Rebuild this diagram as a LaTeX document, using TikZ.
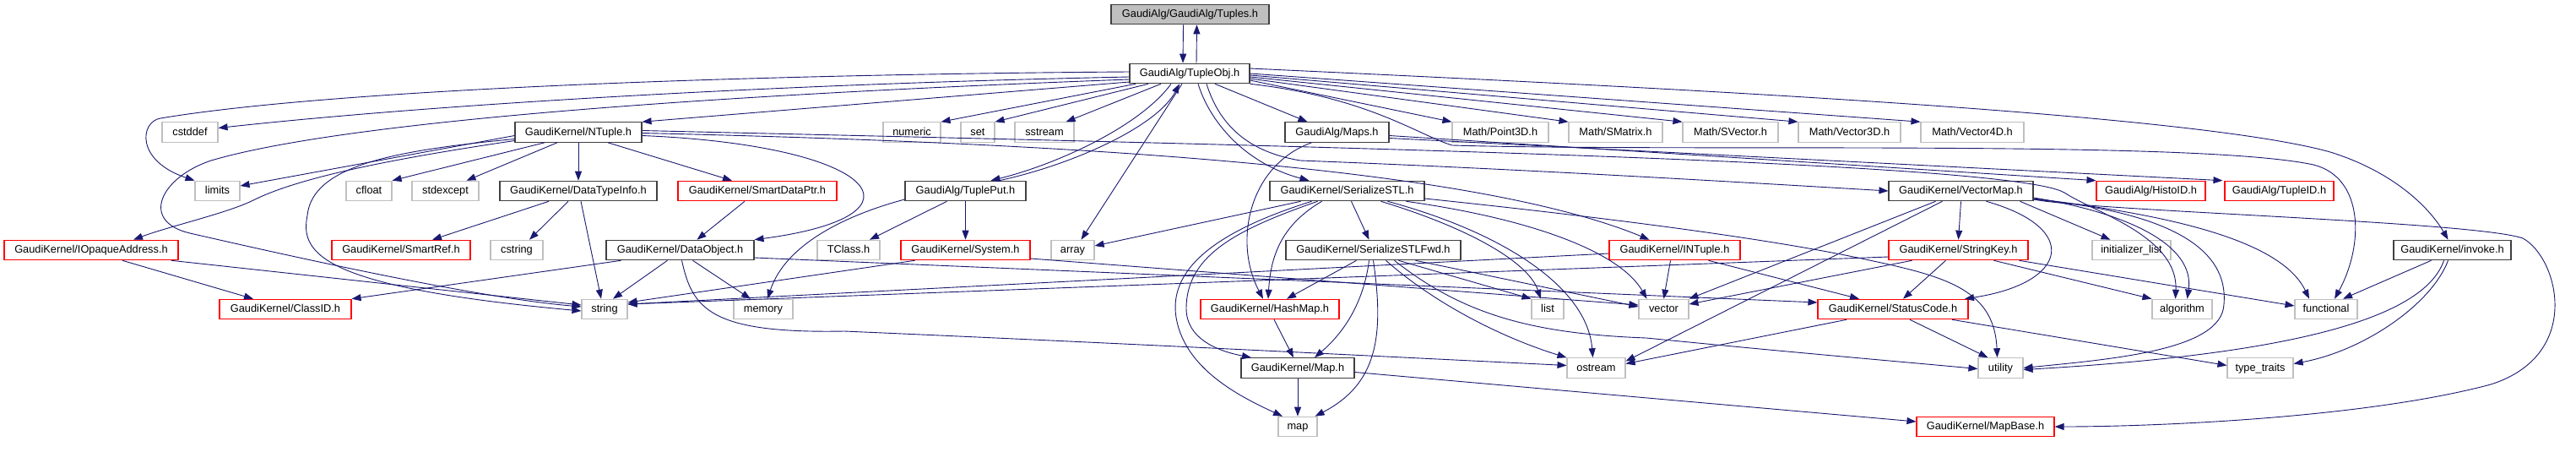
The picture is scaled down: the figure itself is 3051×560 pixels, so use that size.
\documentclass[tikz,border=0pt]{standalone}
\usepackage{fontspec}
\setmainfont{Liberation Sans}
\usepackage{tikz}
\usetikzlibrary{arrows.meta}
\definecolor{edgeblue}{RGB}{25,25,112}
\definecolor{sysgray}{RGB}{191,191,191}
\definecolor{docgray}{RGB}{64,64,64}

\begin{document}
\begin{tikzpicture}[x=1pt, y=-1pt,
    box/.style={draw, rectangle, inner sep=0pt, minimum height=23.5pt, line width=1.1pt,
                font=\fontsize{12.8}{14}\selectfont, text height=9.5pt, text depth=2.5pt},
    doc/.style={box, draw=docgray},
    sys/.style={box, draw=sysgray},
    trunc/.style={box, draw=red},
    dep/.style={draw=edgeblue, line width=0.9pt, -{Triangle[length=11pt,width=8pt]}}]
                \useasboundingbox (0,0) rectangle (3051,560);
                % Include graph of Tuples.h
                \node[doc, fill=sysgray, minimum width=187pt] (tuples) at (1409.5,17) {GaudiAlg/GaudiAlg/Tuples.h};
                \node[doc, minimum width=142pt] (tupleobj) at (1409,87) {GaudiAlg/TupleObj.h};

                \node[sys, minimum width=66pt] (cstddef) at (225,156.5) {cstddef};
                \node[doc, minimum width=150pt] (ntuple) at (685,156.5) {GaudiKernel/NTuple.h};
                \node[sys, minimum width=68pt] (numeric) at (1080,156.5) {numeric};
                \node[sys, minimum width=40pt] (set) at (1158,156.5) {set};
                \node[sys, minimum width=70pt] (sstream) at (1237,156.5) {sstream};
                \node[doc, minimum width=123pt] (maps) at (1583.5,156.5) {GaudiAlg/Maps.h};
                \node[sys, minimum width=114pt] (pointthreed) at (1777,156.5) {Math/Point3D.h};
                \node[sys, minimum width=111pt] (smatrix) at (1913.5,156.5) {Math/SMatrix.h};
                \node[sys, minimum width=113pt] (svector) at (2049.5,156.5) {Math/SVector.h};
                \node[sys, minimum width=121pt] (vecthreed) at (2190.5,156.5) {Math/Vector3D.h};
                \node[sys, minimum width=122pt] (vecfourd) at (2336,156.5) {Math/Vector4D.h};

                \node[sys, minimum width=53pt] (limits) at (257.5,226) {limits};
                \node[sys, minimum width=54pt] (cfloat) at (437,226) {cfloat};
                \node[sys, minimum width=79pt] (stdexcept) at (527.5,226) {stdexcept};
                \node[doc, minimum width=186pt] (datatypeinfo) at (685,226) {GaudiKernel/DataTypeInfo.h};
                \node[trunc, minimum width=188pt] (smartdataptr) at (897,226) {GaudiKernel/SmartDataPtr.h};
                \node[doc, minimum width=143pt] (tupleput) at (1143.5,226) {GaudiAlg/TuplePut.h};
                \node[doc, minimum width=183pt] (serializestl) at (1595.5,226) {GaudiKernel/SerializeSTL.h};
                \node[doc, minimum width=171pt] (vectormap) at (2322.5,226) {GaudiKernel/VectorMap.h};
                \node[trunc, minimum width=129pt] (histoid) at (2547.5,226) {GaudiAlg/HistoID.h};
                \node[trunc, minimum width=129pt] (tupleid) at (2699.5,226) {GaudiAlg/TupleID.h};

                \node[trunc, minimum width=206pt] (iopaque) at (108,296) {GaudiKernel/IOpaqueAddress.h};
                \node[trunc, minimum width=164pt] (smartref) at (475,296) {GaudiKernel/SmartRef.h};
                \node[sys, minimum width=62pt] (cstring) at (612,296) {cstring};
                \node[doc, minimum width=175pt] (dataobject) at (805.5,296) {GaudiKernel/DataObject.h};
                \node[sys, minimum width=74pt] (tclass) at (1005,296) {TClass.h};
                \node[trunc, minimum width=153pt] (system) at (1143.5,296) {GaudiKernel/System.h};
                \node[sys, minimum width=51pt] (array) at (1270.5,296) {array};
                \node[doc, minimum width=207pt] (stlfwd) at (1626.5,296) {GaudiKernel/SerializeSTLFwd.h};
                \node[trunc, minimum width=155pt] (intuple) at (1983.5,296) {GaudiKernel/INTuple.h};
                \node[trunc, minimum width=165pt] (stringkey) at (2319.5,296) {GaudiKernel/StringKey.h};
                \node[sys, minimum width=93pt] (initlist) at (2524.5,296) {initializer\_list};
                \node[doc, minimum width=139pt] (invoke) at (2904.5,296) {GaudiKernel/invoke.h};

                \node[trunc, minimum width=156pt] (classid) at (338,366) {GaudiKernel/ClassID.h};
                \node[sys, minimum width=54pt] (string) at (716,366) {string};
                \node[sys, minimum width=70pt] (memory) at (904,366) {memory};
                \node[trunc, minimum width=164pt] (hashmap) at (1504,366) {GaudiKernel/HashMap.h};
                \node[sys, minimum width=38pt] (list) at (1833,366) {list};
                \node[sys, minimum width=59pt] (vector) at (1970.5,366) {vector};
                \node[trunc, minimum width=178pt] (statuscode) at (2242,366) {GaudiKernel/StatusCode.h};
                \node[sys, minimum width=71pt] (algorithm) at (2584.5,366) {algorithm};
                \node[sys, minimum width=74pt] (functional) at (2755,366) {functional};

                \node[doc, minimum width=134pt] (maph) at (1537,435.5) {GaudiKernel/Map.h};
                \node[sys, minimum width=69pt] (ostream) at (1890.5,435.5) {ostream};
                \node[sys, minimum width=53pt] (utility) at (2369.5,435.5) {utility};
                \node[sys, minimum width=78pt] (typetraits) at (2677,435.5) {type\_traits};

                \node[sys, minimum width=46pt] (map) at (1537,505) {map};
                \node[trunc, minimum width=163pt] (mapbase) at (2351.5,505) {GaudiKernel/MapBase.h};

                % Tuples.h and TupleObj.h
                \draw[dep] ([xshift=-8pt]tuples.south) -- ([xshift=-8pt]tupleobj.north);
                \draw[dep] ([xshift=8pt]tupleobj.north) -- ([xshift=8pt]tuples.south);

                % TupleObj.h, left side
                \draw[dep] ([yshift=2pt]tupleobj.west) .. controls (900,88) and (400,105) .. (190,140) .. controls (166,144) and (160,190) .. (limits.north west);
                \draw[dep] ([yshift=-4pt]tupleobj.west) .. controls (900,100) and (500,125) .. ([yshift=5pt]cstddef.east);
                \draw[dep] ([yshift=-7pt]tupleobj.west) .. controls (900,110) and (420,140) .. (250,190) .. controls (190,210) and (165,262) .. (225,276) .. controls (330,300) and (560,352) .. ([yshift=3pt]string.west);
                \draw[dep] ([yshift=-10pt]tupleobj.west) -- (ntuple.north east);
                \draw[dep] ([xshift=-64pt]tupleobj.south) -- (numeric.north east);
                \draw[dep] ([xshift=-49pt]tupleobj.south) -- (set.north east);
                \draw[dep] ([xshift=-34pt]tupleobj.south) -- ([xshift=-10pt]sstream.north east);
                \draw[dep] ([xshift=-22pt]tupleobj.south) .. controls (1350,150) and (1250,195) .. ([xshift=30pt]tupleput.north);
                \draw[dep] ([xshift=40pt]tupleput.north) .. controls (1270,195) and (1370,150) .. ([xshift=-12pt]tupleobj.south);
                \draw[dep] ([xshift=-9pt]tupleobj.south) -- ([xshift=10pt]array.north);

                % TupleObj.h, right side
                \draw[dep] ([xshift=10pt]tupleobj.south) .. controls (1435,150) and (1480,195) .. ([xshift=-45pt]serializestl.north);
                \draw[dep] ([xshift=20pt]tupleobj.south) .. controls (1445,150) and (1480,180) .. (1540,190) .. controls (1800,200) and (2050,215) .. (vectormap.west);
                \draw[dep] ([xshift=30pt]tupleobj.south) -- ([xshift=-35pt]maps.north);
                \draw[dep] (tupleobj.south east) .. controls (1620,115) and (1680,160) .. (1720,172) .. controls (2000,180) and (2600,165) .. (2740,195) .. controls (2800,210) and (2800,290) .. ([xshift=10pt]functional.north);
                \draw[dep] ([yshift=-8pt]tupleobj.east) -- (pointthreed.north west);
                \draw[dep] ([yshift=-6pt]tupleobj.east) -- (smatrix.north west);
                \draw[dep] ([yshift=-4pt]tupleobj.east) -- (svector.north west);
                \draw[dep] ([yshift=-2pt]tupleobj.east) -- (vecthreed.north west);
                \draw[dep] (tupleobj.east) -- (vecfourd.north west);
                \draw[dep] ([yshift=6pt]tupleobj.east) .. controls (2000,105) and (2600,135) .. (2760,180) .. controls (2840,205) and (2880,250) .. ([xshift=-5pt]invoke.north);

                % NTuple.h
                \draw[dep] ([yshift=-4pt]ntuple.west) -- ([yshift=6pt]limits.east);
                \draw[dep] ([yshift=-8pt]ntuple.west) .. controls (470,178) and (370,195) .. (364,255) .. controls (355,300) and (380,340) .. ([yshift=-2pt]string.west);
                \draw[dep] ([yshift=-10pt]ntuple.west) .. controls (450,190) and (350,212) .. (300,237) .. controls (270,252) and (200,268) .. ([xshift=50pt]iopaque.north);
                \draw[dep] ([xshift=-40pt]ntuple.south) -- (cfloat.north east);
                \draw[dep] ([xshift=-25pt]ntuple.south) -- ([xshift=25pt]stdexcept.north);
                \draw[dep] (ntuple) -- (datatypeinfo);
                \draw[dep] ([xshift=35pt]ntuple.south) -- ([xshift=-30pt]smartdataptr.north);
                \draw[dep] ([yshift=-4pt]ntuple.east) .. controls (1040,172) and (1110,255) .. (dataobject.north east);
                \draw[dep] ([yshift=-1pt]ntuple.east) .. controls (1300,170) and (1750,200) .. ([xshift=-30pt]intuple.north);
                \draw[dep] ([yshift=2pt]ntuple.east) .. controls (1500,172) and (2380,190) .. (2445,228) .. controls (2480,251) and (2580,280) .. ([xshift=-8pt]algorithm.north);

                % DataTypeInfo.h, SmartDataPtr.h, IOpaqueAddress.h
                \draw[dep] ([xshift=-35pt]datatypeinfo.south) -- ([xshift=37pt]smartref.north);
                \draw[dep] ([xshift=-12pt]datatypeinfo.south) -- ([xshift=15pt]cstring.north);
                \draw[dep] ([xshift=3pt]datatypeinfo.south) -- ([xshift=-4pt]string.north);
                \draw[dep] ([xshift=-15pt]smartdataptr.south) -- ([xshift=20pt]dataobject.north);
                \draw[dep] ([xshift=37pt]iopaque.south) -- ([xshift=-38pt]classid.north);
                \draw[dep] ([xshift=95pt]iopaque.south) -- ([yshift=5pt]string.west);

                % DataObject.h
                \draw[dep] ([xshift=-70pt]dataobject.south) -- (classid.north east);
                \draw[dep] ([xshift=-15pt]dataobject.south) -- ([xshift=10pt]string.north);
                \draw[dep] ([xshift=15pt]dataobject.south) -- ([xshift=-15pt]memory.north);
                \draw[dep] ([xshift=2pt]dataobject.south) .. controls (820,365) and (840,395) .. (1000,392) .. controls (1300,405) and (1600,420) .. ([yshift=3pt]ostream.west);
                \draw[dep] ([yshift=-9pt]dataobject.east) -- ([yshift=8pt]statuscode.west);

                % TuplePut.h and System.h
                \draw[dep] ([xshift=-22pt]tupleput.south) -- ([xshift=25pt]tclass.north);
                \draw[dep] (tupleput) -- (system);
                \draw[dep] ([yshift=-10pt]tupleput.west) .. controls (1000,255) and (930,290) .. ([xshift=5pt]memory.north);
                \draw[dep] ([xshift=-60pt]system.south) -- ([yshift=8pt]string.east);
                \draw[dep] ([yshift=-10pt]system.east) -- ([yshift=5pt]vector.west);

                % Maps.h
                \draw[dep] ([xshift=-30pt]maps.south) .. controls (1480,195) and (1460,285) .. ([xshift=-8pt]hashmap.north);
                \draw[dep] ([yshift=-4pt]maps.east) -- (histoid.north west);
                \draw[dep] ([yshift=-7pt]maps.east) -- ([xshift=-2pt]tupleid.north west);

                % SerializeSTL.h
                \draw[dep] ([xshift=-55pt]serializestl.south) -- ([yshift=5pt]array.east);
                \draw[dep] ([xshift=-30pt]serializestl.south) .. controls (1520,265) and (1505,300) .. ([xshift=-2pt]hashmap.north);
                \draw[dep] ([xshift=-35pt]serializestl.south) .. controls (1470,270) and (1405,300) .. (1405,365) .. controls (1405,400) and (1440,415) .. ([xshift=-55pt]maph.north);
                \draw[dep] ([xshift=-42pt]serializestl.south) .. controls (1420,280) and (1380,330) .. (1395,385) .. controls (1410,440) and (1470,470) .. ([xshift=-18pt]map.north);
                \draw[dep] ([xshift=5pt]serializestl.south) -- ([xshift=-5pt]stlfwd.north);
                \draw[dep] ([xshift=40pt]serializestl.south) .. controls (1740,270) and (1810,310) .. ([xshift=-8pt]list.north);
                \draw[dep] ([xshift=48pt]serializestl.south) .. controls (1780,275) and (1880,340) .. ([xshift=-4pt]ostream.north);
                \draw[dep] ([xshift=70pt]serializestl.south) .. controls (1820,260) and (1920,300) .. ([xshift=-20pt]vector.north);
                \draw[dep] ([yshift=-9pt]serializestl.east) .. controls (1880,255) and (2080,280) .. (2200,305) .. controls (2300,326) and (2362,340) .. ([xshift=-4pt]utility.north);

                % SerializeSTLFwd.h
                \draw[dep] ([xshift=-20pt]stlfwd.south) -- ([xshift=20pt]hashmap.north);
                \draw[dep] ([xshift=-5pt]stlfwd.south) .. controls (1615,360) and (1590,395) .. ([xshift=20pt]maph.north);
                \draw[dep] (stlfwd.south) .. controls (1640,400) and (1630,455) .. ([xshift=-3pt]map.north east);
                \draw[dep] ([xshift=15pt]stlfwd.south) .. controls (1700,360) and (1780,400) .. (ostream.north west);
                \draw[dep] ([xshift=25pt]stlfwd.south) .. controls (1730,370) and (1810,395) .. (1950,400) .. controls (2100,415) and (2250,428) .. ([yshift=-1pt]utility.west);
                \draw[dep] ([xshift=30pt]stlfwd.south) -- (list.north west);
                \draw[dep] ([xshift=50pt]stlfwd.south) -- ([yshift=3pt]vector.west);

                % HashMap.h and Map.h
                \draw[dep] ([xshift=5pt]hashmap.south) -- ([xshift=-5pt]maph.north);
                \draw[dep] (maph) -- (map);
                \draw[dep] ([yshift=-5pt]maph.east) -- ([yshift=6pt]mapbase.west);

                % INTuple.h and StringKey.h
                \draw[dep] ([yshift=-4pt]intuple.west) -- ([yshift=6pt]string.east);
                \draw[dep] ([xshift=-5pt]intuple.south) -- (vector.north);
                \draw[dep] ([xshift=40pt]intuple.south) -- ([xshift=-40pt]statuscode.north);
                \draw[dep] ([yshift=-8pt]stringkey.west) -- ([yshift=6pt]string.east);
                \draw[dep] ([xshift=-55pt]stringkey.south) -- ([yshift=6pt]vector.east);
                \draw[dep] ([xshift=-15pt]stringkey.south) -- ([xshift=12pt]statuscode.north);
                \draw[dep] ([xshift=42pt]stringkey.south) -- (algorithm.north west);
                \draw[dep] ([xshift=72pt]stringkey.south) -- ([yshift=4pt]functional.west);

                % VectorMap.h
                \draw[dep] (vectormap.south) -- (stringkey.north);
                \draw[dep] ([xshift=30pt]vectormap.south) .. controls (2465,270) and (2450,335) .. ([xshift=85pt]statuscode.north);
                \draw[dep] ([xshift=-30pt]vectormap.south) -- (vector.north east);
                \draw[dep] ([xshift=-22pt]vectormap.south) -- ([yshift=8pt]ostream.east);
                \draw[dep] ([xshift=70pt]vectormap.south) -- ([xshift=-25pt]initlist.north);
                \draw[dep] ([yshift=-8pt]vectormap.east) .. controls (2520,252) and (2600,290) .. ([xshift=6pt]algorithm.north);
                \draw[dep] ([yshift=-9pt]vectormap.east) .. controls (2550,252) and (2700,280) .. ([xshift=-20pt]functional.north);
                \draw[dep] ([yshift=-10pt]vectormap.east) .. controls (2560,250) and (2640,290) .. (2634,360) .. controls (2632,415) and (2500,425) .. (utility.east);
                \draw[dep] ([yshift=-10pt]vectormap.east) .. controls (2480,250) and (2930,262) .. (2988,282) .. controls (3030,305) and (3060,420) .. (2950,455) .. controls (2800,495) and (2550,505) .. (mapbase.east);

                % StatusCode.h and invoke.h
                \draw[dep] ([xshift=-55pt]statuscode.south) -- ([yshift=5pt]ostream.east);
                \draw[dep] ([xshift=20pt]statuscode.south) -- ([xshift=-15pt]utility.north);
                \draw[dep] ([xshift=70pt]statuscode.south) -- ([yshift=3pt]typetraits.west);
                \draw[dep] ([xshift=-25pt]invoke.south) -- ([xshift=20pt]functional.north);
                \draw[dep] ([xshift=-10pt]invoke.south) .. controls (2870,380) and (2700,420) .. ([yshift=-2pt]utility.east);
                \draw[dep] ([xshift=-5pt]invoke.south) .. controls (2880,360) and (2800,415) .. ([yshift=5pt]typetraits.east);
\end{tikzpicture}
\end{document}
